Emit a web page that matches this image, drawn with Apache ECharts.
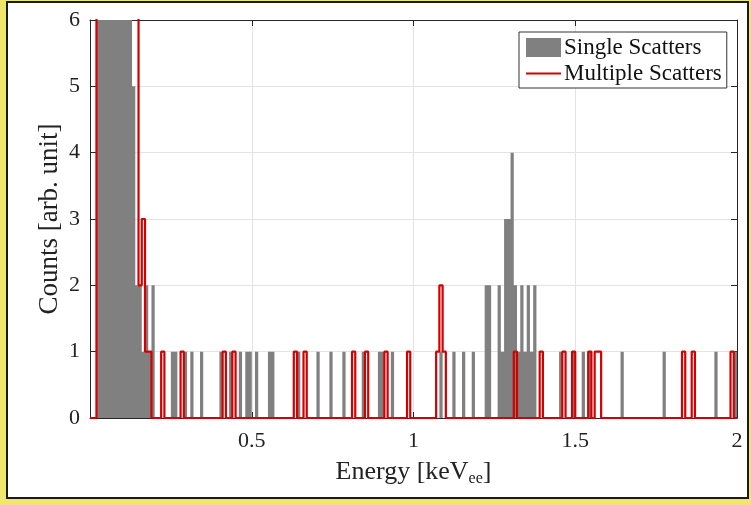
<!DOCTYPE html>
<html><head><meta charset="utf-8">
<script src="https://cdn.jsdelivr.net/npm/echarts/dist/echarts.min.js"></script>
<style>
html,body{margin:0;padding:0;width:751px;height:505px;overflow:hidden;background:#efe66c;}
#panel{position:absolute;left:6px;top:1px;width:739px;height:494px;background:#fff;border:2px solid #1a1a1a;}
#chart{position:absolute;left:0;top:0;width:751px;height:505px;}
</style></head><body>
<div id="panel"></div><div id="chart"></div>
<script>
// Histogram bins: 0.01 keV wide, starting at 0 keV (200 bins up to 2 keV)
const binStart = 0;
const binWidth = 0.01;
const xTickValues = [0, 0.5, 1, 1.5, 2];
const yTickValues = [0, 1, 2, 3, 4, 5, 6];
const seriesNames = ['Single Scatters', 'Multiple Scatters'];

// Single scatters: counts per bin (bins 2-12 run off the top of the plot)
const singleCounts = [
  0,0,9,9,9,9,9,9,9,9,9,9,9,5,2,2,1,2,1,2,
  0,0,0,0,0,1,1,0,0,1,0,1,0,0,1,0,0,0,0,0,
  1,0,0,1,0,0,1,0,1,1,0,1,0,0,0,1,1,0,0,0,
  0,0,0,0,1,0,0,0,0,0,1,0,0,0,1,0,0,0,1,0,
  0,0,0,0,1,0,0,0,0,1,1,0,0,1,0,0,0,0,0,0,
  0,0,0,0,0,0,0,0,1,0,0,0,1,0,0,1,0,0,1,0,
  0,0,2,2,0,0,2,1,3,3,4,2,1,2,1,2,1,2,0,0,
  0,0,0,0,0,1,0,0,0,1,0,0,1,0,1,0,0,0,0,0,
  0,0,0,0,1,0,0,0,0,0,0,0,0,0,0,0,0,1,0,0,
  0,0,0,0,0,0,0,0,0,0,0,0,0,1,0,0,0,0,0,1
];

// Multiple scatters: counts per bin (bins 2-14 run off the top of the plot)
const multipleCounts = [
  0,0,9,9,9,9,9,9,9,9,9,9,9,9,9,2,3,1,1,0,
  0,0,1,0,0,0,0,0,1,0,0,0,0,0,0,0,0,0,0,0,
  0,1,0,0,1,0,0,0,0,0,0,0,0,0,0,0,0,0,0,0,
  0,0,0,1,0,0,1,0,0,0,0,0,0,0,0,0,0,0,0,0,
  0,1,0,0,0,1,0,0,0,0,0,1,0,0,0,0,0,0,1,0,
  0,0,0,0,0,0,0,1,2,1,0,0,0,0,0,0,0,0,0,0,
  0,0,0,0,0,0,0,0,0,0,0,1,0,0,0,0,0,0,0,1,
  0,0,0,0,0,0,1,0,0,1,0,0,0,0,1,0,1,1,0,0,
  0,0,0,0,0,0,0,0,0,0,0,0,0,0,0,0,0,0,0,0,
  0,0,0,1,0,0,1,0,0,0,0,0,0,0,0,0,0,0,1,0
];

function toSteps(counts) {
  const pts = counts.map((c, i) => [+(binStart + i * binWidth).toFixed(4), c]);
  pts.push([+(binStart + counts.length * binWidth).toFixed(4), counts[counts.length - 1]]);
  return pts;
}

const FONT = "'Liberation Serif', 'Times New Roman', serif";
const AX = '#262626';
const RED = '#d40000';
const xMin = xTickValues[0], xMax = xTickValues[xTickValues.length - 1];
const yMin = yTickValues[0], yMax = yTickValues[yTickValues.length - 1];

const chart = echarts.init(document.getElementById('chart'), null, {renderer: 'canvas'});
chart.setOption({
  animation: false,
  backgroundColor: 'transparent',
  grid: {left: 90, right: 14, top: 20, bottom: 87, containLabel: false},
  legend: {
    orient: 'vertical', left: 519, top: 32,
    backgroundColor: '#fff', borderColor: '#333', borderWidth: 1,
    padding: [4, 5, 3, 7], itemGap: 3, itemWidth: 35, itemHeight: 19,
    textStyle: {fontFamily: FONT, fontSize: 23, lineHeight: 19, color: '#111', padding: [0, 0, 0, -2]},
    data: [
      {name: seriesNames[0], icon: 'rect', itemStyle: {color: '#808080', borderWidth: 0}},
      {name: seriesNames[1], icon: 'path://M0,0 M35,19 M0,8.5 L35,8.5 L35,10.5 L0,10.5 Z',
        itemStyle: {color: RED, borderWidth: 0}}
    ]
  },
  xAxis: [{
    type: 'value', min: xMin, max: xMax, interval: 0.5,
    name: 'Energy [keV{sub|ee}]', nameLocation: 'middle', nameGap: 39, nameMoveOverlap: false,
    nameTextStyle: {fontFamily: FONT, fontSize: 26, color: '#222', lineHeight: 30,
      rich: {sub: {fontFamily: FONT, fontSize: 16, lineHeight: 14, verticalAlign: 'bottom', color: '#222'}}},
    axisLine: {show: true, onZero: false, lineStyle: {color: AX, width: 1}},
    axisTick: {show: true, inside: true, length: 6, lineStyle: {color: AX}},
    axisLabel: {fontFamily: FONT, fontSize: 22, color: '#222', margin: 12,
      formatter: v => (v === 0 ? '' : String(v))},
    splitLine: {show: true, lineStyle: {color: '#e3e3e3', width: 1}}
  }, {
    type: 'value', position: 'top', min: xMin, max: xMax, interval: 0.5,
    axisLine: {show: true, onZero: false, lineStyle: {color: AX, width: 1}},
    axisTick: {show: true, inside: true, length: 6, lineStyle: {color: AX}},
    axisLabel: {show: false}, splitLine: {show: false}
  }],
  yAxis: [{
    type: 'value', min: yMin, max: yMax, interval: 1,
    name: 'Counts [arb. unit]', nameLocation: 'middle', nameGap: 27, nameRotate: 90,
    nameMoveOverlap: false,
    nameTextStyle: {fontFamily: FONT, fontSize: 27, color: '#222'},
    axisLine: {show: true, onZero: false, lineStyle: {color: AX, width: 1}},
    axisTick: {show: true, inside: true, length: 6, lineStyle: {color: AX}},
    axisLabel: {fontFamily: FONT, fontSize: 22, color: '#222', margin: 10},
    splitLine: {show: true, lineStyle: {color: '#e3e3e3', width: 1}}
  }, {
    type: 'value', position: 'right', min: yMin, max: yMax, interval: 1,
    axisLine: {show: true, onZero: false, lineStyle: {color: AX, width: 1}},
    axisTick: {show: true, inside: true, length: 6, lineStyle: {color: AX}},
    axisLabel: {show: false}, splitLine: {show: false}
  }],
  series: [{
    name: seriesNames[0], type: 'line', step: 'end', symbol: 'none',
    xAxisIndex: 0, yAxisIndex: 0, clip: true, z: 2,
    itemStyle: {color: '#808080'},
    lineStyle: {width: 0, opacity: 0},
    areaStyle: {color: '#808080', opacity: 1},
    data: toSteps(singleCounts)
  }, {
    name: seriesNames[1], type: 'line', step: 'end', symbol: 'none',
    xAxisIndex: 0, yAxisIndex: 0, clip: true, z: 3,
    itemStyle: {color: RED},
    lineStyle: {width: 2.2, color: RED},
    data: toSteps(multipleCounts)
  }]
});
</script>
</body></html>
